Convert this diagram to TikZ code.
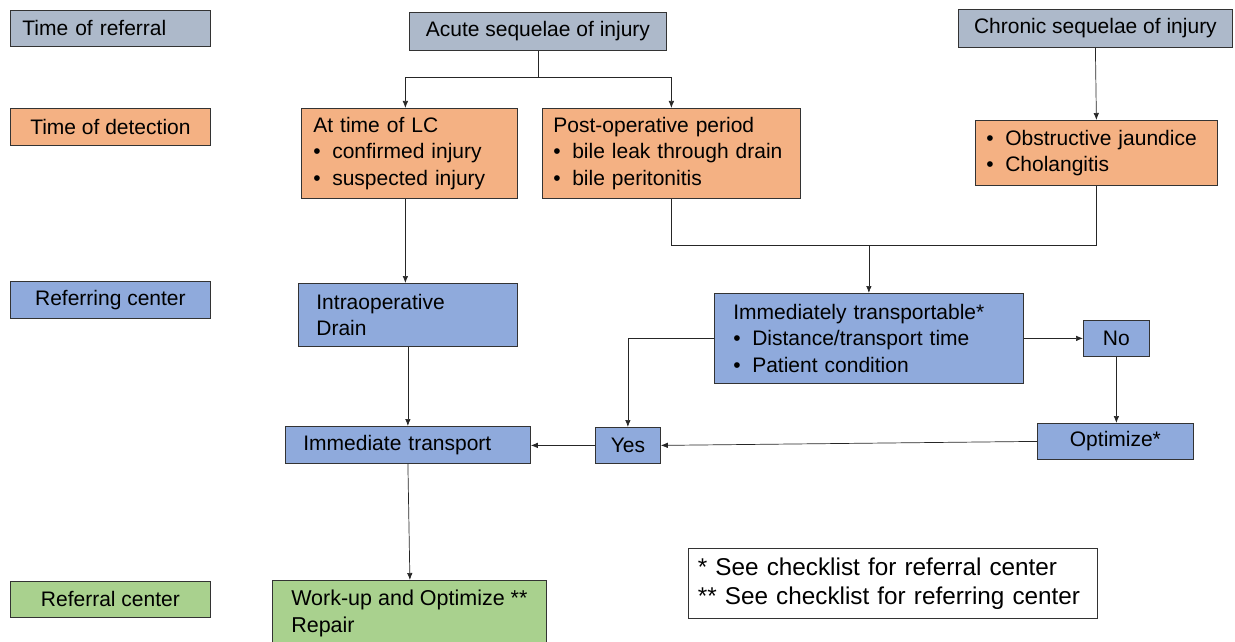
\documentclass[tikz,border=0pt]{standalone}
\usepackage{fontspec}
\setmainfont{Liberation Sans}
\usetikzlibrary{arrows.meta,calc}
\definecolor{grayblue}{HTML}{ADB9CA}
\definecolor{orng}{HTML}{F4B183}
\definecolor{blu}{HTML}{8FAADC}
\definecolor{grn}{HTML}{A9D18E}
\newcommand\bul{\makebox[0.9em][l]{\textbullet}}
\begin{document}
\begin{tikzpicture}[x=1pt,y=-1pt,
  box/.style={draw=black!80, line width=0.8pt, inner sep=0pt, anchor=north west,
    font=\fontsize{21}{26.5}\selectfont},
  lbox/.style={box, align=left},
  arr/.style={draw=black!85, line width=0.7pt, -{Latex[length=7pt,width=5.5pt]}},
  ln/.style={draw=black!85, line width=0.7pt}]
\useasboundingbox (0,0) rectangle (1235,642);
\clip (0,0) rectangle (1235,642);
% left legend column
\node[lbox, fill=grayblue, minimum width=200, minimum height=36, text width=176] (tref) at (10,10) {Time of referral};
\node[box, fill=orng, minimum width=200, minimum height=37] (tdet) at (10,108) {Time of detection};
\node[box, fill=blu, minimum width=200, minimum height=37] (rfg) at (10,281) {Referring center};
\node[box, fill=grn, minimum width=200, minimum height=36] (rfl) at (10,581) {Referral center};
% top
\node[box, fill=grayblue, minimum width=257, minimum height=38] (acute) at (409,12) {Acute sequelae of injury};
\node[box, fill=grayblue, minimum width=274, minimum height=38] (chron) at (958,9) {Chronic sequelae of injury};
% detection
\node[lbox, fill=orng, minimum width=216, minimum height=90, text width=192] (lc) at (301,108)
  {At time of LC\\\bul confirmed injury\\\bul suspected injury};
\node[lbox, fill=orng, minimum width=258, minimum height=90, text width=236] (post) at (542,108)
  {Post-operative period\\\bul bile leak through drain\\\bul bile peritonitis};
\node[lbox, fill=orng, minimum width=242, minimum height=65, text width=220] (obs) at (975,120)
  {\bul Obstructive jaundice\\\bul Cholangitis};
% referring center
\node[lbox, fill=blu, minimum width=219, minimum height=63, text width=183] (drain) at (298,283)
  {Intraoperative\\Drain};
\node[lbox, fill=blu, minimum width=309, minimum height=90, text width=271] (imm) at (714,293)
  {Immediately transportable*\\\bul Distance/transport time\\\bul Patient condition};
\node[box, fill=blu, minimum width=66, minimum height=36] (no) at (1083,320) {No};
\node[box, fill=blu, minimum width=65, minimum height=36] (yes) at (595,427) {Yes};
\node[box, fill=blu, minimum width=156, minimum height=36] (opt) at (1037,423) {Optimize*};
\node[lbox, fill=blu, minimum width=245, minimum height=37, text width=209] (trans) at (285,426) {Immediate transport};
% referral center
\node[lbox, fill=grn, minimum width=274, minimum height=96, anchor=north west,
  font=\fontsize{21.5}{26.5}\selectfont] (work) at (272,580)
  {Work-up and Optimize **\\Repair\\\strut};
% footnote
\node[lbox, fill=white, minimum width=409, minimum height=70, text width=390,
  font=\fontsize{24.3}{29}\selectfont] (foot) at (688,548)
  {* See checklist for referral center\\{}** See checklist for referring center};
% connectors
\coordinate (fk) at ($(acute.south)+(0,27)$);
\draw[ln] (acute.south) -- (fk);
\draw[arr] (fk) -| ([xshift=-4]lc.north);
\draw[arr] (fk) -| (post.north);
\draw[arr] (chron.south) -- (obs.north);
\draw[arr] ([xshift=-4]lc.south) -- ([xshift=-4]lc.south |- drain.north);
\coordinate (mg) at ($(post.south)+(0,47)$);
\draw[ln] (post.south) -- (mg) -- (mg -| obs.south) -- (obs.south);
\draw[arr] (mg -| imm.north) -- (imm.north);
\draw[arr] (drain.south) -- (trans.north);
\draw[arr] (imm.west) -| (yes.north);
\draw[arr] (imm.east) -- (no.west);
\draw[arr] (no.south) -- (no.south |- opt.north);
\draw[arr] (opt.west) -- (yes.east);
\draw[arr] (yes.west) -- (yes.west -| trans.east);
\draw[arr] (trans.south) -- ([xshift=2]trans.south |- work.north);
\end{tikzpicture}
\end{document}
